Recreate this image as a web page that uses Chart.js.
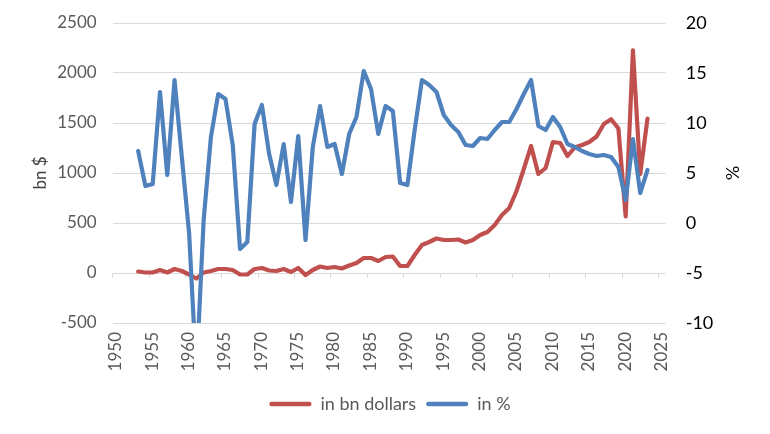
<!DOCTYPE html>
<html>
<head>
<meta charset="utf-8">
<script src="https://cdn.jsdelivr.net/npm/chart.js@4/dist/chart.umd.min.js"></script>
<style>
  html, body { margin: 0; padding: 0; background: #ffffff; }
  #wrap { width: 770px; height: 434px; }
</style>
</head>
<body>
<div id="wrap"><canvas id="c" width="770" height="434"></canvas></div>
<script>
// ---- data ----
const years = [1953,1954,1955,1956,1957,1958,1959,1960,1961,1962,1963,1964,1965,1966,1967,1968,1969,1970,
  1971,1972,1973,1974,1975,1976,1977,1978,1979,1980,1981,1982,1983,1984,1985,1986,1987,1988,1989,1990,
  1991,1992,1993,1994,1995,1996,1997,1998,1999,2000,2001,2002,2003,2004,2005,2006,2007,2008,2009,2010,
  2011,2012,2013,2014,2015,2016,2017,2018,2019,2020,2021,2022,2023];
const bnDollars = [15,5,5,30,5,40,20,-15,-55,5,20,40,40,30,-15,-15,40,50,
  25,20,40,10,50,-20,30,65,50,60,45,75,100,150,150,120,160,165,70,70,
  180,280,310,345,330,330,335,305,330,380,410,480,580,650,820,1040,1270,990,1050,1310,
  1300,1170,1255,1280,1310,1365,1490,1537,1445,567,2227,990,1544];
const inPercent = [7.2,3.7,3.9,13.1,4.8,14.3,6.6,-1.0,-15,0.3,8.6,12.9,12.4,7.8,-2.6,-1.9,9.9,11.8,
  6.9,3.8,7.9,2.1,8.7,-1.7,7.6,11.7,7.6,7.9,4.9,8.9,10.6,15.2,13.4,8.9,11.7,11.2,4.0,3.8,
  9.3,14.3,13.8,13.1,10.8,9.8,9.1,7.8,7.7,8.5,8.4,9.3,10.1,10.1,11.4,12.9,14.3,9.7,9.3,10.6,
  9.6,7.9,7.6,7.2,6.9,6.7,6.8,6.6,5.6,2.3,8.4,3.0,5.3];
const seriesNames = ["in bn dollars", "in %"];
const leftTicks = [-500, 2500, 500];   // min, max, step
const rightTicks = [-10, 20, 5];       // min, max, step
const xTicks = [1950, 2026, 5];        // min, max, step
const axisTitles = ["bn $", "%"];

// annual values plotted at mid-year on a year axis
const MID_YEAR = 0.5;
const toPoints = vals => years.map((yr, i) => ({ x: yr + MID_YEAR, y: vals[i] }));

const FONT = "Lato, 'Liberation Sans', Arial, sans-serif";
const GRID = '#d9d9d9';
const GREY = '#595959';

new Chart(document.getElementById('c'), {
  type: 'line',
  data: {
    datasets: [
      { label: seriesNames[0], data: toPoints(bnDollars), yAxisID: 'y', xAxisID: 'x',
        borderColor: '#c0504d', backgroundColor: '#c0504d', borderWidth: 4.2,
        pointRadius: 0, tension: 0, borderJoinStyle: 'round', borderCapStyle: 'round', order: 1 },
      { label: seriesNames[1], data: toPoints(inPercent), yAxisID: 'y2', xAxisID: 'x',
        borderColor: '#4f81bd', backgroundColor: '#4f81bd', borderWidth: 4.2,
        pointRadius: 0, tension: 0, borderJoinStyle: 'round', borderCapStyle: 'round', order: 0 }
    ]
  },
  options: {
    responsive: false,
    animation: false,
    events: [],
    layout: { padding: { left: 10, right: 0, top: 23, bottom: 11 } },
    plugins: {
      tooltip: { enabled: false },
      legend: {
        position: 'bottom',
        labels: {
          color: GREY,
          font: { family: FONT, size: 18 },
          boxWidth: 42, boxHeight: 4.5,
          useBorderRadius: true, borderRadius: 2,
          padding: 10,
          sort: (a, b) => a.datasetIndex - b.datasetIndex,
          generateLabels(chart) {
            const items = Chart.defaults.plugins.legend.labels.generateLabels(chart);
            items.forEach(it => { it.lineWidth = 0; it.fillStyle = it.strokeStyle; });
            return items;
          }
        }
      }
    },
    scales: {
      x: {
        type: 'linear', position: 'bottom',
        min: xTicks[0], max: xTicks[1],
        grid: { display: false, drawTicks: false },
        border: { display: false },
        ticks: {
          stepSize: xTicks[2], includeBounds: false,
          minRotation: 90, maxRotation: 90, padding: 9, labelOffset: 3,
          color: GREY, font: { family: FONT, size: 17 },
          callback: v => String(v)
        },
        afterFit(s) { s.height = 62; }
      },
      x2: {
        type: 'linear', axis: 'x', position: { y: 0 },
        min: xTicks[0], max: xTicks[1],
        grid: { drawOnChartArea: false, drawTicks: true, tickLength: 5, color: GRID, lineWidth: 1 },
        border: { display: false },
        ticks: { display: false, stepSize: xTicks[2], includeBounds: false }
      },
      y: {
        type: 'linear', position: 'left',
        min: leftTicks[0], max: leftTicks[1],
        grid: { color: GRID, lineWidth: 1, drawTicks: false },
        border: { display: false },
        ticks: { stepSize: leftTicks[2], padding: 16, color: GREY,
          font: { family: FONT, size: 17 }, callback: v => String(v) },
        title: { display: true, text: axisTitles[0], color: '#404040',
          font: { family: FONT, size: 17 }, padding: { top: 20, bottom: 0 } },
        afterFit(s) { s.width = 102.7; s.paddingTop = 10; s.paddingBottom = 10; }
      },
      y2: {
        type: 'linear', position: 'right',
        min: rightTicks[0], max: rightTicks[1],
        grid: { drawOnChartArea: false, drawTicks: false },
        border: { display: false },
        ticks: { stepSize: rightTicks[2], padding: 20, color: '#000000',
          font: { family: FONT, size: 18 }, callback: v => String(v) },
        title: { display: true, text: axisTitles[1], color: '#000000',
          font: { family: FONT, size: 18 }, padding: { top: 27, bottom: 0 } },
        afterFit(s) { s.width = 104.3; s.paddingTop = 10; s.paddingBottom = 10; }
      }
    }
  }
});
</script>
</body>
</html>
